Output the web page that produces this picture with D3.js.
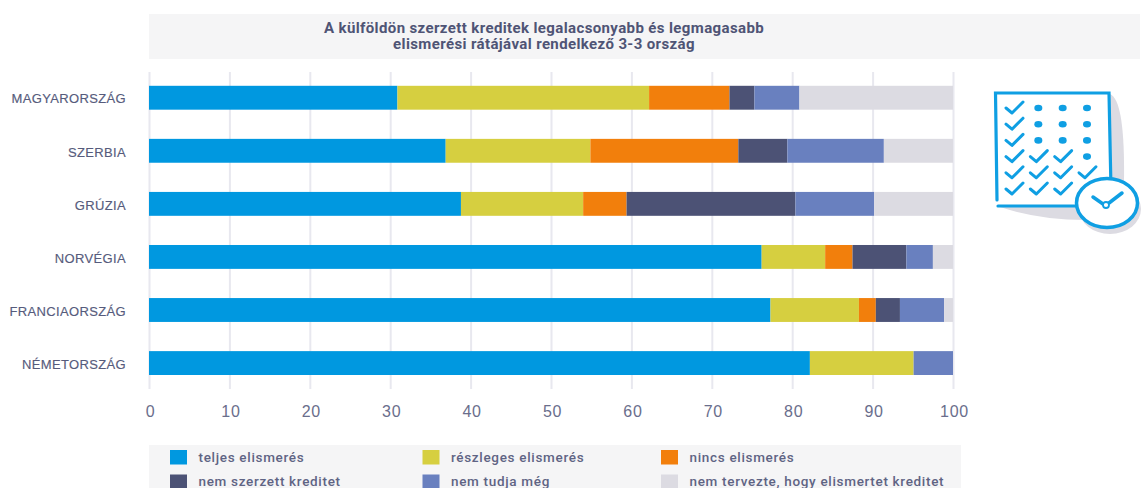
<!DOCTYPE html>
<html>
<head>
<meta charset="utf-8">
<script src="https://d3js.org/d3.v7.min.js"></script>
<style>
  html, body { margin: 0; padding: 0; background: #fff; }
  svg { display: block; font-family: Roboto, sans-serif; }
  .grid line { stroke: #e8e8ef; stroke-width: 2; }
  .grid path, .ylab path, .ylab line { display: none; }
  .grid text { fill: #6a6e8c; font-size: 16px; letter-spacing: 0.7px; }
  .ylab text { fill: #565b7c; font-size: 13px; letter-spacing: 0.35px; stroke: #565b7c; stroke-width: 0.15px; }
  .title { fill: #4f5475; font-size: 15px; font-weight: 700; letter-spacing: 0.38px; text-anchor: middle; }
  .legend text { fill: #5f6484; font-size: 13.5px; font-weight: 500; letter-spacing: 0.68px; }
</style>
</head>
<body>
<div id="chart"></div>
<script>
const titleLines = ['A külföldön szerzett kreditek legalacsonyabb és legmagasabb', 'elismerési rátájával rendelkező 3-3 ország']
const countries = ['MAGYARORSZÁG', 'SZERBIA', 'GRÚZIA', 'NORVÉGIA', 'FRANCIAORSZÁG', 'NÉMETORSZÁG']
const seriesNames = ['teljes elismerés', 'részleges elismerés', 'nincs elismerés', 'nem szerzett kreditet', 'nem tudja még', 'nem tervezte, hogy elismertet kreditet']
const seriesColors = ['#0098e0', '#d6cf40', '#f27f0c', '#4c5275', '#6980bf', '#dcdbe2']

// one list per series, same order as countries
const teljes = [30.9, 36.9, 38.8, 76.2, 77.3, 82.2]
const reszleges = [31.3, 18.0, 15.2, 7.9, 11.0, 12.9]
const nincs = [10.0, 18.4, 5.4, 3.4, 2.1, 0]
const nemSzerzett = [3.1, 6.1, 21.0, 6.7, 3.0, 0]
const nemTudja = [5.6, 12.0, 9.8, 3.3, 5.5, 4.9]
const nemTervezte = [19.1, 8.6, 9.8, 2.5, 1.1, 0]
const xTicks = [0, 10, 20, 30, 40, 50, 60, 70, 80, 90, 100]

// icon sheet: c = check mark, d = dot
const iconRows = ['cddd', 'cddd', 'cddd', 'cccd', 'cccc', 'ccc']

const width = 1144, height = 488
const margin = {left: 149, right: 191, top: 71, bottom: 99}

const svg = d3.select('#chart').append('svg')
    .attr('width', width)
    .attr('height', height)

// title and legend panels
svg.append('rect').attr('x', 149).attr('y', 14).attr('width', 991).attr('height', 45).attr('fill', '#f5f5f6')
svg.append('rect').attr('x', 149).attr('y', 445).attr('width', 812).attr('height', 43).attr('fill', '#f5f5f6')

svg.selectAll('.title').data(titleLines).enter().append('text')
    .attr('class', 'title')
    .attr('x', 544)
    .attr('y', (d, i) => 33 + i * 16)
    .text(d => d)

const xScale = d3.scaleLinear()
    .domain([0, 100])
    .range([margin.left, width - margin.right])
// no outer padding, the range runs from the first bar top to the last bar bottom
const yScale = d3.scaleBand()
    .domain(countries)
    .range([85.8, 375])
    .paddingInner(0.55)
    .paddingOuter(0)

// grid comes from the axis ticks
const xAxis = d3.axisBottom(xScale)
    .tickValues(xTicks)
    .tickSize(-(height - margin.top - margin.bottom - 1))
    .tickPadding(16.5)
svg.append('g').attr('class', 'grid')
    .attr('transform', 'translate(0,' + (height - margin.bottom) + ')')
    .call(xAxis)
svg.selectAll('.grid text').attr('dx', '1px')

const yAxis = d3.axisLeft(yScale).tickSize(0).tickPadding(23)
svg.append('g').attr('class', 'ylab')
    .attr('transform', 'translate(' + margin.left + ',0)')
    .call(yAxis)
svg.selectAll('.ylab text').attr('dy', '0.44em')

// stacked bars
const seriesValues = [teljes, reszleges, nincs, nemSzerzett, nemTudja, nemTervezte]
const rows = countries.map((c, i) => {
    let row = {country: c}
    seriesNames.forEach((s, j) => { row[s] = seriesValues[j][i] })
    return row
})
const stacked = d3.stack().keys(seriesNames)(rows)
const color = d3.scaleOrdinal().domain(seriesNames).range(seriesColors)

svg.append('g').selectAll('g').data(stacked).enter().append('g')
    .attr('fill', d => color(d.key))
    .selectAll('rect').data(d => d).enter().append('rect')
    .attr('x', d => xScale(d[0]))
    .attr('y', d => yScale(d.data.country))
    .attr('width', d => xScale(d[1]) - xScale(d[0]))
    .attr('height', yScale.bandwidth())

// legend, 3 columns by 2 rows
const legendCols = [170, 422.5, 661]
const legend = svg.append('g').attr('class', 'legend')
const items = legend.selectAll('g').data(seriesNames).enter().append('g')
    .attr('transform', (d, i) => 'translate(' + legendCols[i % 3] + ',' + (450 + Math.floor(i / 3) * 24.5) + ')')
items.append('rect')
    .attr('width', 17).attr('height', 14.5)
    .attr('fill', d => color(d))
items.append('text')
    .attr('x', 28.5).attr('y', 11.5)
    .text(d => d)

// icon in the right margin
const icon = svg.append('g').attr('class', 'icon')
const iconBlue = '#0f9fe3'
icon.append('path')
    .attr('d', 'M1110 94 Q1125 100 1124 180 L1122 205 L1085 220 Q1040 220 1000 207 Z')
    .attr('fill', '#dcdbe2')
icon.append('rect').attr('x', 995).attr('y', 93).attr('width', 115).attr('height', 113).attr('fill', '#fff')
icon.append('path')
    .attr('d', 'M997 200 L995.5 93 L1109 93 L1111 190 M998 206 L1082 206')
    .attr('fill', 'none').attr('stroke', iconBlue).attr('stroke-width', 3.2).attr('stroke-linecap', 'round')

const iconX = d3.scalePoint().domain(d3.range(4)).range([1014, 1087])
const iconY = d3.scalePoint().domain(d3.range(6)).range([108, 189])
iconRows.forEach((row, r) => {
    row.split('').forEach((m, c) => {
        let px = iconX(c), py = iconY(r)
        if (m === 'c') {
            icon.append('path')
                .attr('d', 'M' + (px - 8) + ' ' + py + ' L' + (px - 2) + ' ' + (py + 5) + ' L' + (px + 9) + ' ' + (py - 6))
                .attr('fill', 'none').attr('stroke', iconBlue).attr('stroke-width', 3).attr('stroke-linecap', 'round').attr('stroke-linejoin', 'round')
        } else {
            icon.append('ellipse').attr('cx', px).attr('cy', py).attr('rx', 4).attr('ry', 3.3).attr('fill', iconBlue)
        }
    })
})

// clock
icon.append('ellipse').attr('cx', 1110).attr('cy', 209).attr('rx', 31).attr('ry', 25).attr('fill', '#dcdbe2')
icon.append('ellipse').attr('cx', 1107).attr('cy', 203).attr('rx', 30.5).attr('ry', 24.5)
    .attr('fill', '#fff').attr('stroke', iconBlue).attr('stroke-width', 3.5)
icon.append('path')
    .attr('d', 'M1093 197 L1103 204 M1109 203 L1122 193')
    .attr('fill', 'none').attr('stroke', iconBlue).attr('stroke-width', 3.5).attr('stroke-linecap', 'round')
icon.append('circle').attr('cx', 1106).attr('cy', 205).attr('r', 3).attr('fill', '#fff').attr('stroke', iconBlue).attr('stroke-width', 1.8)
</script>
</body>
</html>
